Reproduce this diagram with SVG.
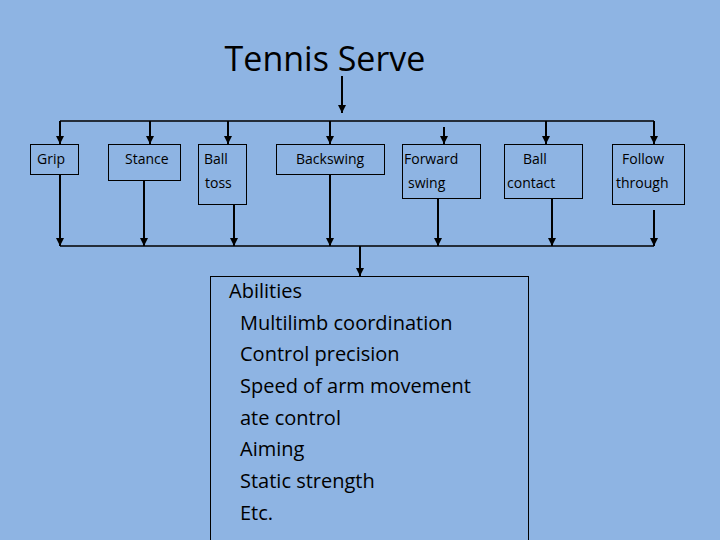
<svg xmlns="http://www.w3.org/2000/svg" width="720" height="540" viewBox="0 0 720 540">
<style>
.b{fill:none;stroke:#000;stroke-width:1}
.t{font-family:"Open Sans","DejaVu Sans",sans-serif;font-size:14px;fill:#000}
.a{font-family:"Open Sans","DejaVu Sans",sans-serif;font-size:20px;fill:#000}
.c{stroke:#000;stroke-width:2;fill:none}
.l{stroke:#000;stroke-width:1.5;fill:none}
</style>
<defs><marker id="m" viewBox="0 0 10 10" refX="10" refY="5" markerWidth="5" markerHeight="4" orient="auto" markerUnits="strokeWidth"><path d="M0,0L10,5L0,10z" fill="#000"/></marker></defs>
<rect width="720" height="540" fill="#8EB4E3"/>
<text x="325" y="71" font-family="Open Sans,DejaVu Sans,sans-serif" font-size="34" text-anchor="middle">Tennis Serve</text>
<g id="connectors">
<line class="c" x1="342" y1="76" x2="342" y2="113" marker-end="url(#m)"/>
<line class="l" x1="60" y1="121" x2="654" y2="121"/>
<line class="c" x1="60" y1="121" x2="60" y2="144" marker-end="url(#m)"/>
<line class="c" x1="150" y1="121" x2="150" y2="144" marker-end="url(#m)"/>
<line class="c" x1="228" y1="121" x2="228" y2="144" marker-end="url(#m)"/>
<line class="c" x1="330" y1="121" x2="330" y2="144" marker-end="url(#m)"/>
<line class="c" x1="444" y1="127" x2="444" y2="144" marker-end="url(#m)"/>
<line class="c" x1="546" y1="121" x2="546" y2="144" marker-end="url(#m)"/>
<line class="c" x1="654" y1="121" x2="654" y2="144" marker-end="url(#m)"/>
<line class="c" x1="60" y1="174" x2="60" y2="246" marker-end="url(#m)"/>
<line class="c" x1="144" y1="180" x2="144" y2="246" marker-end="url(#m)"/>
<line class="c" x1="234" y1="204" x2="234" y2="246" marker-end="url(#m)"/>
<line class="c" x1="330" y1="174" x2="330" y2="246" marker-end="url(#m)"/>
<line class="c" x1="438" y1="198" x2="438" y2="246" marker-end="url(#m)"/>
<line class="c" x1="552" y1="198" x2="552" y2="246" marker-end="url(#m)"/>
<line class="c" x1="654" y1="210" x2="654" y2="246" marker-end="url(#m)"/>
<line class="l" x1="60" y1="246" x2="654" y2="246"/>
<line class="c" x1="360" y1="246" x2="360" y2="276" marker-end="url(#m)"/>
</g>
<g id="grip"><rect class="b" x="30.5" y="144.5" width="48" height="30"/><text class="t" x="37" y="164">Grip</text></g>
<g id="stance"><rect class="b" x="108.5" y="144.5" width="72" height="36"/><text class="t" x="125" y="164">Stance</text></g>
<g id="balltoss"><rect class="b" x="198.5" y="144.5" width="48" height="60"/><text class="t" x="204" y="164">Ball</text><text class="t" x="205" y="188">toss</text></g>
<g id="backswing"><rect class="b" x="276.5" y="144.5" width="108" height="30"/><text class="t" x="296" y="164">Backswing</text></g>
<g id="forward"><rect class="b" x="402.5" y="144.5" width="78" height="54"/><text class="t" x="404" y="164">Forward</text><text class="t" x="408" y="188">swing</text></g>
<g id="contact"><rect class="b" x="504.5" y="144.5" width="78" height="54"/><text class="t" x="523" y="164">Ball</text><text class="t" x="507" y="188">contact</text></g>
<g id="follow"><rect class="b" x="612.5" y="144.5" width="72" height="60"/><text class="t" x="622" y="164">Follow</text><text class="t" x="616" y="188">through</text></g>
<g id="abilities"><rect class="b" x="210.5" y="276.5" width="318" height="270"/>
<text class="a" x="229" y="298">Abilities</text>
<text class="a" x="240" y="330">Multilimb coordination</text>
<text class="a" x="240" y="361">Control precision</text>
<text class="a" x="240" y="393">Speed of arm movement</text>
<text class="a" x="240" y="425">ate control</text>
<text class="a" x="240" y="456">Aiming</text>
<text class="a" x="240" y="488">Static strength</text>
<text class="a" x="240" y="520">Etc.</text></g>
</svg>
